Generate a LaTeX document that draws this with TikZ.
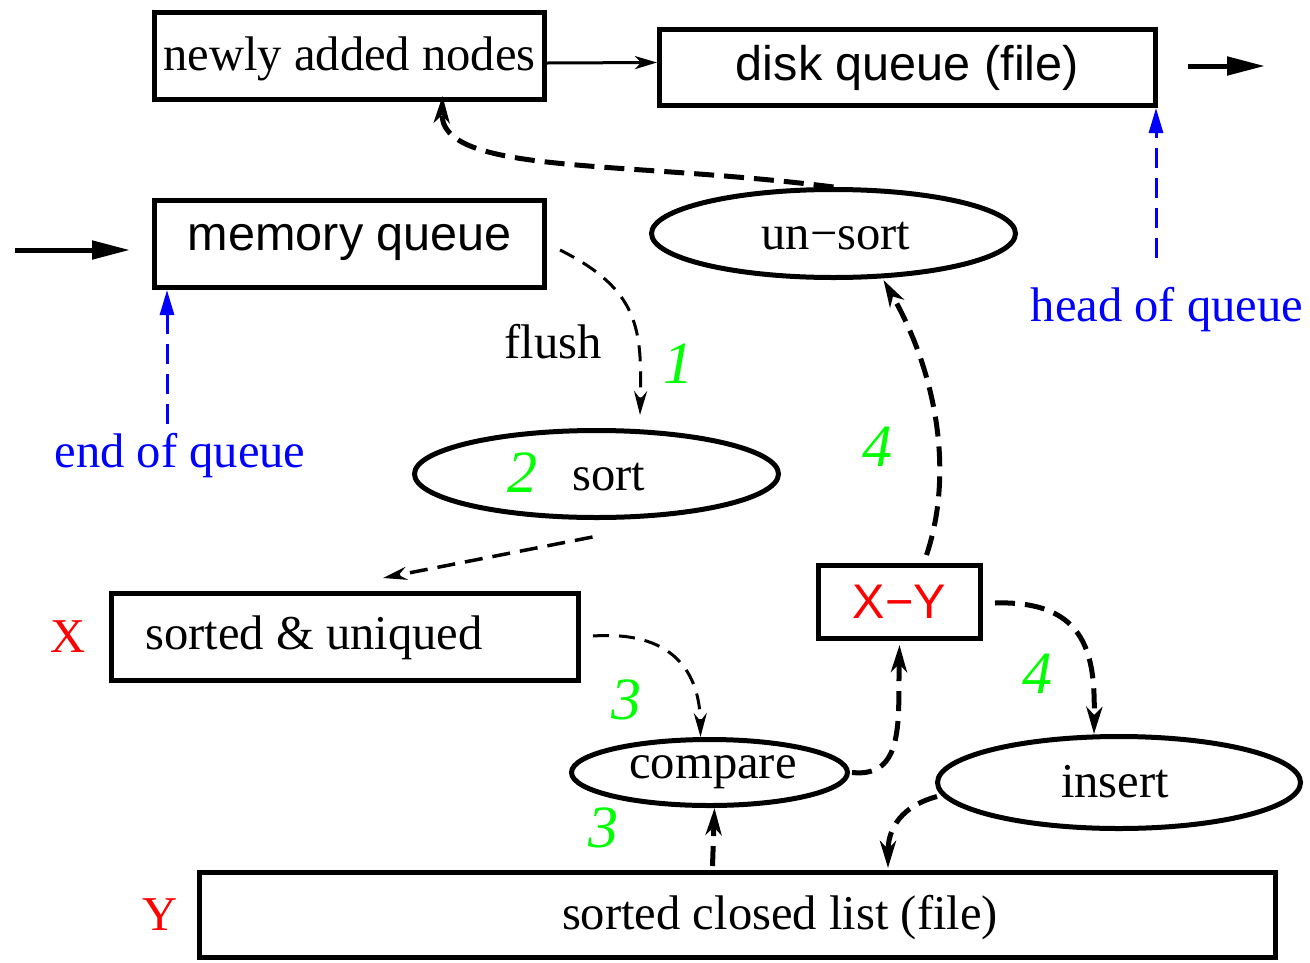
\documentclass[tikz,border=0pt]{standalone}
\usepackage{fontspec}
\setmainfont{Liberation Serif}
\setsansfont{Liberation Sans}
\usetikzlibrary{shapes.geometric,arrows.meta}
\tikzset{
  box/.style={draw,line width=5pt,rectangle,inner sep=0pt},
  ell/.style={draw,line width=5pt,ellipse,inner sep=0pt},
  txt/.style={font=\fontsize{48.6}{58}\selectfont},
  sanstxt/.style={font=\sffamily\fontsize{48.6}{58}\selectfont},
  num/.style={text=green,font=\itshape\fontsize{60}{70}\selectfont},
  dl/.style={dashed,dash pattern=on 20pt off 10pt,line width=5pt,-{Stealth[length=27pt,width=16pt,inset=8pt]}},
  dthin/.style={dashed,dash pattern=on 16pt off 10pt,line width=3pt,-{Stealth[length=24pt,width=13pt,inset=8pt]}},
  bl/.style={blue,dashed,dash pattern=on 20pt off 10pt,line width=3pt,-{Triangle[length=25pt,width=14pt]}},
  sol/.style={line width=5pt,-{Triangle[length=38pt,width=18pt]}},
}
\begin{document}
\begin{tikzpicture}[x=1pt,y=-1pt]
\useasboundingbox (0,0) rectangle (1310,962);
% nodes
\node[box,minimum width=390pt,minimum height=87pt] (newly) at (349.5,56) {};
\node[txt] (newlylbl) at (349.5,59) {newly added nodes};
\node[box,sanstxt,minimum width=496pt,minimum height=76pt] (disk) at (907.5,67.5) {disk queue (file)};
\node[box,minimum width=390pt,minimum height=87pt] (memq) at (349.5,244) {};
\node[sanstxt] (memqlbl) at (350,242) {memory queue};
\node[ell,minimum width=364pt,minimum height=88pt] (unsort) at (833.5,233.5) {};
\node[txt] (unsortlbl) at (836,236) {un\textminus sort};
\node[ell,minimum width=364pt,minimum height=87pt] (sort) at (596.5,474) {};
\node[txt] (sortlbl) at (609,477) {sort};
\node[num] (n2) at (522,473) {2};
\node[box,minimum width=467pt,minimum height=87pt] (su) at (345,637) {};
\node[txt] (sulbl) at (314,638) {sorted \& uniqued};
\node[box,sanstxt,text=red,minimum width=162pt,minimum height=73pt] (xy) at (899.5,602) {X\textminus Y};
\node[ell,minimum width=276pt,minimum height=66pt] (cmp) at (709.5,772.5) {};
\node[txt] (cmplbl) at (713,772) {compare};
\node[ell,minimum width=363pt,minimum height=92pt] (ins) at (1119,782.5) {};
\node[txt] (inslbl) at (1115,782) {insert};
\node[box,minimum width=1076pt,minimum height=85pt] (scl) at (737.5,915) {};
\node[txt] (scllbl) at (780,918) {sorted closed list (file)};
% labels
\node[txt,text=red] (xl) at (68,637) {X};
\node[txt,text=red] (yl) at (160,915) {Y};
\node[txt,text=blue] (eoq) at (180,456) {end of queue};
\node[txt,text=blue] (hoq) at (1167,310) {head of queue};
\node[txt] (flush) at (553,342) {flush};
\node[num] (n1) at (678,364) {1};
\node[num] (n3a) at (626,700) {3};
\node[num] (n3b) at (603,828) {3};
\node[num] (n4a) at (877,447) {4};
\node[num] (n4b) at (1037,674) {4};
% solid arrows
\draw[line width=3pt,-{Stealth[length=22pt,width=13pt,inset=6pt]}] ([yshift=-7pt]newly.east) -- ([yshift=5pt]disk.west);
\draw[sol] ([xshift=30pt,yshift=1.5pt]disk.east) -- ([xshift=107pt,yshift=1.5pt]disk.east);
\draw[sol] ([xshift=-137pt,yshift=-6pt]memq.west) -- ([xshift=-22pt,yshift=-6pt]memq.west);
% blue arrows
\draw[bl] ([xshift=-13pt,yshift=6pt]eoq.north) -- ([xshift=-182.5pt]memq.south);
\draw[bl] ([xshift=-11pt,yshift=26pt]hoq.north) -- ([xshift=-2pt]disk.south east);
% dashed connectors
\draw[dl] (unsort.north) .. controls (620,160) and (440,175) .. ([xshift=93pt,yshift=6pt]newly.south);
\draw[dthin] ([xshift=13pt,yshift=-6pt]memq.east) .. controls (640,290) and (642,330) .. ([xshift=43.5pt,yshift=13pt]sort.north);
\draw[dashed,dash pattern=on 18pt off 10pt,line width=3.5pt,-{Stealth[length=24pt,width=13pt,inset=8pt]}] ([xshift=-4pt,yshift=-17pt]sort.south) -- ([xshift=38pt,yshift=13pt]su.north);
\draw[dthin] ([xshift=12pt,yshift=1pt]su.east) .. controls (680,630) and (700,680) .. ([xshift=-9pt]cmp.north);
\draw[dl] ([xshift=-25pt,yshift=4pt]scl.north) -- ([xshift=5pt]cmp.south);
\draw[dl] ([xshift=2pt]cmp.east) .. controls (905,778) and (898,720) .. ([yshift=-4pt]xy.south);
\draw[dl] ([xshift=27pt,yshift=8pt]xy.north) .. controls (955,470) and (935,370) .. ([xshift=50pt]unsort.south);
\draw[dl] ([xshift=12pt,yshift=-1pt]xy.east) .. controls (1090,600) and (1095,660) .. ([xshift=-25pt]ins.north);
\draw[dl] ([xshift=2pt,yshift=-14pt]ins.west) .. controls (895,808) and (888,835) .. ([xshift=150.5pt,yshift=2pt]scl.north);
\end{tikzpicture}
\end{document}
